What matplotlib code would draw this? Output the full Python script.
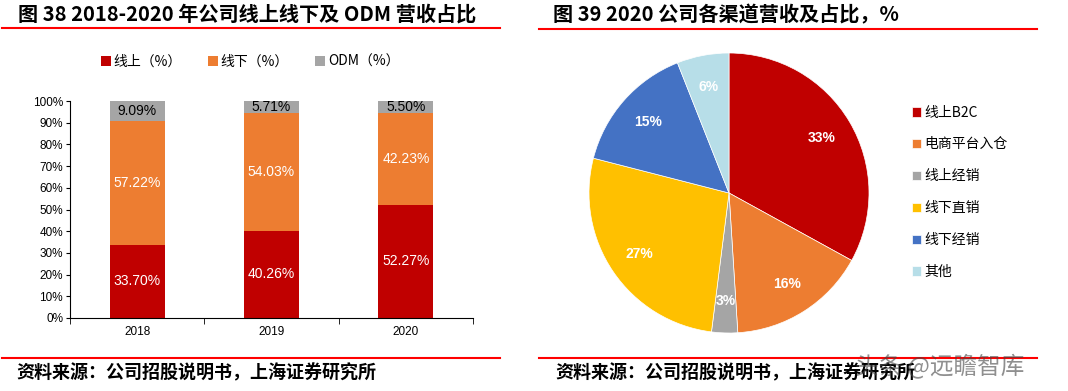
import matplotlib
matplotlib.use("Agg")
import matplotlib.pyplot as plt
from matplotlib.lines import Line2D
import numpy as np

plt.rcParams['font.family'] = ['Noto Sans CJK SC', 'DejaVu Sans']
NUM = 'Liberation Sans'

# bar chart data
years = ['2018', '2019', '2020']
online = [33.70, 40.26, 52.27]
offline = [57.22, 54.03, 42.23]
odm = [9.09, 5.71, 5.50]
bar_labels = ['线上（%）', '线下（%）', 'ODM（%）']
bar_colors = ['#C00000', '#ED7D31', '#A5A5A5']

# pie data
channels = ['线上B2C', '电商平台入仓', '线上经销', '线下直销', '线下经销', '其他']
shares = [33, 16, 3, 27, 15, 6]
pie_colors = ['#C00000', '#ED7D31', '#A5A5A5', '#FFC000', '#4472C4', '#B7DEE8']

W, H = 1068, 391
fig = plt.figure(figsize=(W / 100, H / 100), dpi=100)


def px(x0, y0, x1, y1):
    # pixel box (top-left origin) -> figure fraction
    return [x0 / W, 1 - y1 / H, (x1 - x0) / W, (y1 - y0) / H]


# headers and red rules
fig.text(18 / W, 1 - 14 / H, '图 38 2018-2020 年公司线上线下及 ODM 营收占比',
         fontsize=14.5, fontweight='bold', va='center', ha='left')
fig.text(553 / W, 1 - 15 / H, '图 39 2020 公司各渠道营收及占比，%',
         fontsize=14.5, fontweight='bold', va='center', ha='left')
for x0, x1, y in [(2, 500, 28), (539, 1037, 29), (2, 500, 358), (539, 1037, 358)]:
    fig.add_artist(Line2D([x0 / W, x1 / W], [1 - y / H, 1 - y / H],
                          color='#FF0000', lw=1.5))
src = '资料来源：公司招股说明书，上海证券研究所'
fig.text(16 / W, 1 - 373 / H, src, fontsize=13, fontweight='bold',
         style='italic', va='center', ha='left')
fig.text(555 / W, 1 - 373 / H, src, fontsize=13, fontweight='bold',
         style='italic', va='center', ha='left')
# watermark sits over the source line, as in the original image
fig.text(855 / W, 1 - 366 / H, '头条 @远瞻智库', fontsize=17, color='#444444',
         alpha=0.6, va='center', ha='left')

# stacked bars
ax = fig.add_axes(px(70, 101, 473, 318))
x = np.arange(len(years))
bw = 0.41
ax.bar(x, online, bw, color=bar_colors[0], label=bar_labels[0])
ax.bar(x, offline, bw, bottom=online, color=bar_colors[1], label=bar_labels[1])
bottom2 = np.array(online) + np.array(offline)
ax.bar(x, odm, bw, bottom=bottom2, color=bar_colors[2], label=bar_labels[2])

for i in range(len(years)):
    ax.text(x[i], online[i] / 2, f'{online[i]:.2f}%', ha='center', va='center',
            color='white', fontsize=10, family=NUM)
    ax.text(x[i], online[i] + offline[i] / 2, f'{offline[i]:.2f}%', ha='center',
            va='center', color='white', fontsize=10, family=NUM)
    ax.text(x[i], 100 - odm[i] / 2, f'{odm[i]:.2f}%', ha='center', va='center',
            color='black', fontsize=10, family=NUM)

ax.set_xlim(-0.5, 2.5)
ax.set_ylim(0, 100)
ax.set_yticks(np.arange(0, 101, 10))
ax.set_yticklabels([f'{v}%' for v in range(0, 101, 10)], fontsize=8.5, family=NUM)
ax.set_xticks(x)
ax.set_xticklabels(years, fontsize=8.5, family=NUM)
ax.tick_params(axis='x', length=0, pad=6)
ax.set_xticks([-0.5, 0.5, 1.5, 2.5], minor=True)
ax.tick_params(axis='x', which='minor', length=4, direction='out')
ax.tick_params(axis='y', length=3, direction='out', pad=2)
for s in ['top', 'right']:
    ax.spines[s].set_visible(False)
ax.legend(loc='center', bbox_to_anchor=(0.447, 1.18), ncol=3, frameon=False,
          fontsize=10, handlelength=0.7, handleheight=0.7, handletextpad=0.2,
          columnspacing=1.9)

# pie
pax = fig.add_axes(px(589, 53, 869, 333))
wedges, texts = pax.pie(shares, colors=pie_colors, startangle=90, counterclock=False,
                        radius=1, labels=[f'{s}%' for s in shares],
                        labeldistance=0.77,
                        wedgeprops=dict(linewidth=0.5, edgecolor='white'))
for t in texts:
    t.set_color('white')
    t.set_fontweight('bold')
    t.set_fontsize(10)
    t.set_family(NUM)
    t.set_ha('center')
    t.set_va('center')
pax.set_xlim(-1, 1)
pax.set_ylim(-1, 1)
pax.set_aspect('equal')

pax.legend(wedges, channels, loc='upper left',
           bbox_to_anchor=((906 - 589) / 280, 1 - (100 - 53) / 280),
           frameon=False, fontsize=10, handlelength=0.7, handleheight=0.7,
           handletextpad=0.2, labelspacing=1.29, borderaxespad=0)

fig.savefig('out.png', dpi=100)
